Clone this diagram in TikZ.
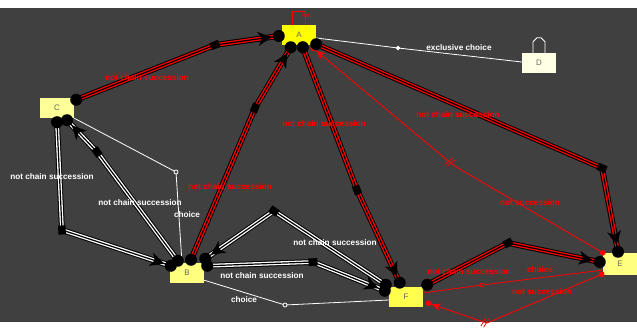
\documentclass[tikz,border=0pt]{standalone}
\usepackage{fontspec}
\setmainfont{Liberation Sans}
\usepackage{xcolor}
\usetikzlibrary{positioning}
\usetikzlibrary{calc}
\usetikzlibrary{shapes.geometric}
\usetikzlibrary{decorations.markings}
\definecolor{canvas}{HTML}{404040}
\definecolor{actyellow}{HTML}{FFFF00}
\definecolor{actpale}{HTML}{FFFF99}
\definecolor{actcream}{HTML}{FFFFE3}
\definecolor{actmid}{HTML}{FFFF80}
\newcommand\ballsize{6pt}
\newcommand\dotsize{2.8pt}
\newcommand\lblfont{\bfseries\fontsize{8.2}{10}\selectfont}
\tikzset{
    act/.style = {fill=#1, minimum width=34pt, minimum height=20pt, inner sep=0pt,
                  font=\fontsize{8}{9}\selectfont, text=black!60},
    balls/.style = {postaction={decorate, decoration={markings,
        mark=at position 0 with {\fill[black] circle (\ballsize);},
        mark=at position -7pt with {\fill[black] (0pt,0pt) -- (-14pt,7pt) -- (-10pt,0pt) -- (-14pt,-7pt) -- cycle;},
        mark=at position 1 with {\fill[black] circle (\ballsize);}}}},
    notchain/.style = {preaction={draw=black, line width=5.8pt}, draw=#1, line width=3.8pt,
                       postaction={draw=black, line width=1.2pt}, balls},
    notch/.style = {fill=black, inner sep=0pt, minimum width=9pt, minimum height=7.5pt},
    notsucc/.style = {red, line width=0.9pt, postaction={decorate, decoration={markings,
        mark=at position 0 with {\fill[red] circle (\dotsize);},
        mark=at position 4pt with {\fill[red] (0pt,0pt) -- (9pt,4pt) -- (6pt,0pt) -- (9pt,-4pt) -- cycle;},
        mark=at position #1 with {\draw[line width=0.8pt] (-2.5pt,-5pt) -- (-0.5pt,5pt) (0.5pt,-5pt) -- (2.5pt,5pt);},
        mark=at position 1 with {\fill[red] circle (\dotsize);}}}},
    choiceline/.style = {draw=#1, line width=0.8pt},
    cnode/.style = {circle, draw=#1, fill=canvas, line width=0.8pt, inner sep=0pt, minimum size=4pt},
    xnode/.style = {diamond, fill=white, inner sep=0pt, minimum size=5pt},
    redlbl/.style = {text=red, font=\lblfont, inner sep=1pt},
    whitelbl/.style = {text=white, font=\lblfont, inner sep=1pt},
}

\begin{document}
\begin{tikzpicture}[x=1pt, y=-1pt]
    \useasboundingbox (0,0) rectangle (637,328);
    \fill[canvas] (0,8) rectangle (637,322);
    % --- Activities
    \node[act=actyellow] (A) at (299,35) {A};
    \node[act=actpale]   (C) at (57,108) {C};
    \node[act=actcream]  (D) at (539,63) {D};
    \node[act=actmid]    (B) at (187,273) {B};
    \node[act=actyellow!70!white] (F) at (406,297) {F};
    \node[act=actmid, minimum height=22pt] (E) at (620,264) {E};
    % --- Self loops
    \draw[red, line width=0.8pt] ($(A.north)+(-7,0)$) -- ++(0,-13) -- ++(13,0) -- ++(0,13);
    \node[redlbl, font=\fontsize{6}{7}\selectfont] (init) at (306,15) {init};
    \draw[white, line width=0.8pt] ($(D.north)+(-6,0)$) -- ++(0,-11) -- ++(4,-4) -- ++(4,0) -- ++(4,4) -- ++(0,11);
    % --- Choice lines
    \draw[choiceline=white] (C.south east) -- node[cnode=white,pos=1]{} (176,172) -- ($(B.north)+(-5,0)$);
    \draw[choiceline=white] ($(B.south east)+(0,-3)$) -- node[cnode=white,pos=1]{} (285,305) -- ($(F.west)+(0,3)$);
    \draw[choiceline=white] ($(A.east)+(0,3)$) -- node[xnode,pos=1]{} (398,48) -- ($(D.west)+(0,-1)$);
    \draw[choiceline=red] ($(F.north east)+(1,6)$) -- node[cnode=red,pos=1]{} (482,285) -- ($(E.south west)+(-1,-5)$);
    % --- Not succession
    \draw[notsucc=0.5] ($(A.south east)+(-3,3)$) -- (453,165) -- (E.north west);
    \draw[notsucc=0.32] ($(F.south east)+(5,-4)$) -- (487,323) -- ($(E.south west)+(-1,-1)$);
    % --- Not chain succession, red
    \draw[notchain=red] ($(C.north east)+(2,2)$) -- node[notch,pos=1,sloped]{} (215,45) -- ($(A.west)+(-3,1)$);
    \draw[notchain=red] ($(B.north)+(4,-3)$) -- node[notch,pos=1,sloped]{} (255,108) -- ($(A.south west)+(9,2)$);
    \draw[notchain=red] ($(A.south west)+(21,2)$) -- node[notch,pos=1,sloped]{} (357,190) -- ($(F.north west)+(11,-4)$);
    \draw[notchain=red] ($(A.south east)+(0,-1)$) -- node[notch,pos=1,sloped]{} (602,168) -- ($(E.north)+(-2,-1)$);
    \draw[notchain=red] ($(F.north east)+(4,-2)$) -- node[notch,pos=1,sloped]{} (508,243) -- ($(E.west)+(-3,-2)$);
    % --- Not chain succession, white
    \draw[notchain=white] ($(C.south)+(0,4)$) -- node[notch,pos=1,sloped]{} (62,230) -- ($(B.north west)+(1,3)$);
    \draw[notchain=white] ($(B.north west)+(8,-2)$) -- node[notch,pos=1,sloped]{} (97,152) -- ($(C.south)+(10,2)$);
    \draw[notchain=white] ($(B.north east)+(3,3)$) -- node[notch,pos=1,sloped]{} (313,262) -- ($(F.north west)+(-4,4)$);
    \draw[notchain=white] ($(F.north west)+(-3,-2)$) -- node[notch,pos=1,sloped]{} (274,211) -- ($(B.north east)+(1,-4)$);
    % --- Labels
    \node[redlbl] (lCA) at (147,78) {not chain succession};
    \node[redlbl] (lBA) at (230,187) {not chain succession};
    \node[redlbl] (lAF) at (324,124) {not chain succession};
    \node[redlbl] (lAE) at (458,115) {not chain succession};
    \node[redlbl] (lFE) at (469,272) {not chain succession};
    \node[redlbl] (lAEns) at (530,203) {not succession};
    \node[redlbl] (lFEns) at (542,292) {not succession};
    \node[redlbl] (lFEc) at (540,270) {choice};
    \node[whitelbl] (lCB) at (52,177) {not chain succession};
    \node[whitelbl] (lBC) at (140,203) {not chain succession};
    \node[whitelbl] (lFB) at (335,243) {not chain succession};
    \node[whitelbl] (lBF) at (262,276) {not chain succession};
    \node[whitelbl] (lBCc) at (187,215) {choice};
    \node[whitelbl] (lBFc) at (244,300) {choice};
    \node[whitelbl] (lAD) at (459,48) {exclusive choice};
\end{tikzpicture}
\end{document}
